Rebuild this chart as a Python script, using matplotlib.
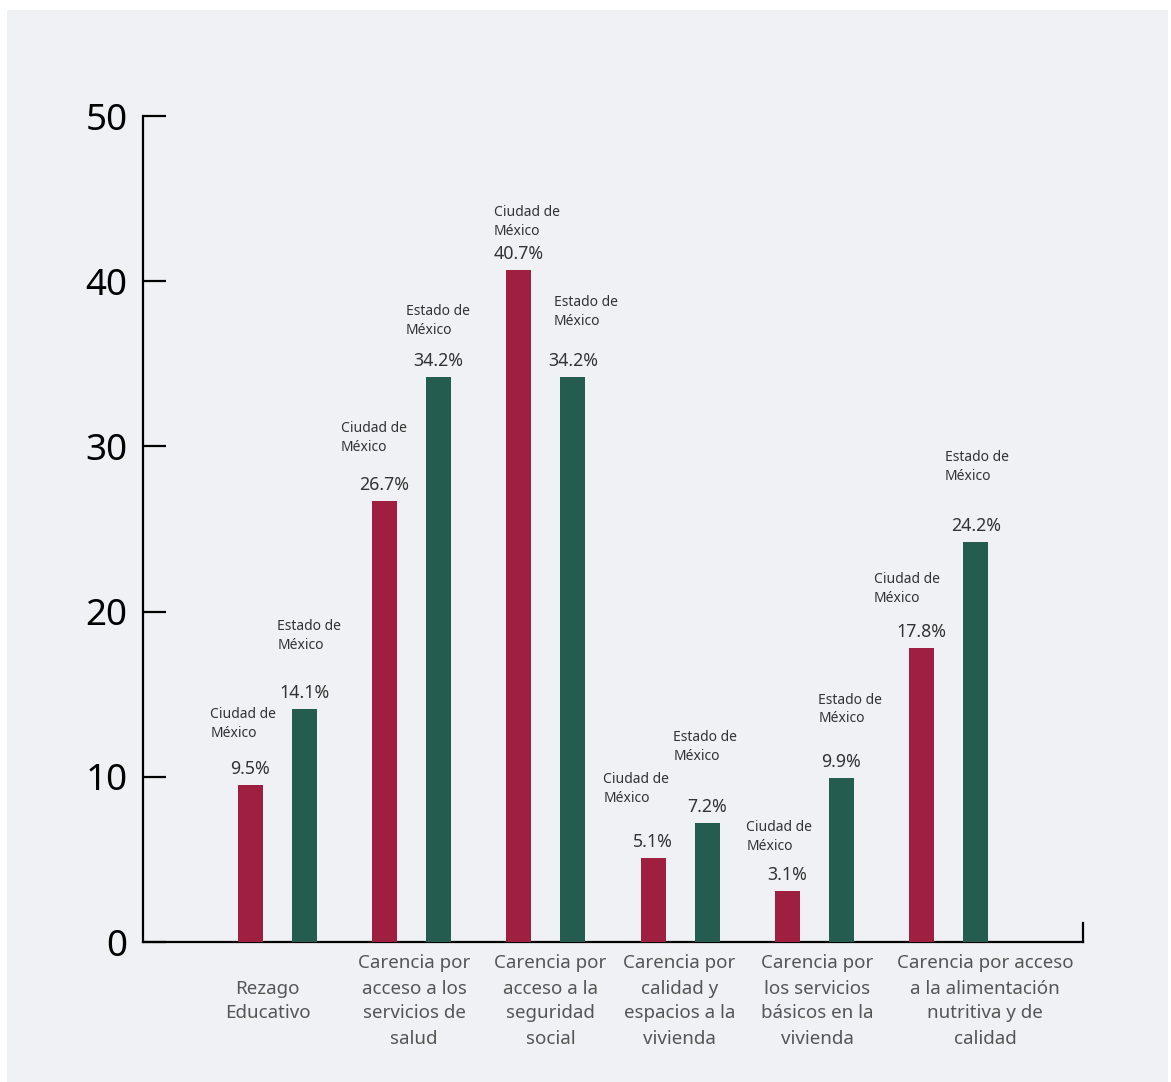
import matplotlib
matplotlib.use('Agg')
import matplotlib.pyplot as plt
from matplotlib.patches import Rectangle
import numpy as np

# --- data ---
categories = ['Rezago\nEducativo',
              'Carencia por\nacceso a los\nservicios de\nsalud',
              'Carencia por\nacceso a la\nseguridad\nsocial',
              'Carencia por\ncalidad y\nespacios a la\nvivienda',
              'Carencia por\nlos servicios\nbásicos en la\nvivienda',
              'Carencia por acceso\na la alimentación\nnutritiva y de\ncalidad']
cdmx = [9.5, 26.7, 40.7, 5.1, 3.1, 17.8]
edomex = [14.1, 34.2, 34.2, 7.2, 9.9, 24.2]
series_names = ['Ciudad de\nMéxico', 'Estado de\nMéxico']
yticks = [0, 10, 20, 30, 40, 50]

# label placement tweaks (pixels)
cat_dx = [-9.5, 2.5, 4.5, -0.5, 3, 36.5]
note_dx = [[-7, -11, 8, -17, -8, -15], [5, -1, 13, -2, 9, 1]]
note_gap = [[33, 35, 20, 41, 26, 31], [45, 28, 37, 48, 41, 47]]

RED = '#9e1f40'
GREEN = '#245c4f'
BG = '#f0f1f5'
PX = 0.72  # px -> pt at dpi 100

plt.rcParams['font.family'] = ['Noto Sans', 'DejaVu Sans']

fig = plt.figure(figsize=(11.71, 10.82), dpi=100)
fig.patch.set_facecolor('white')
fig.patches.append(Rectangle((7 / 1171, 0), 1161 / 1171, 1 - 10 / 1082,
                             transform=fig.transFigure, facecolor=BG,
                             edgecolor='none', zorder=-10))

ax = fig.add_axes([143 / 1171, 1 - 942 / 1082, 940 / 1171, 826 / 1082])
ax.set_facecolor('none')

x = np.arange(len(categories))
w = 0.186
off = 0.201
ax.bar(x - off, cdmx, width=w, color=RED, zorder=3)
ax.bar(x + off, edomex, width=w, color=GREEN, zorder=3)

ax.set_xlim(-1, 6)
ax.set_ylim(0, 50)

for s in ['top', 'right']:
    ax.spines[s].set_visible(False)
for s in ['left', 'bottom']:
    ax.spines[s].set_linewidth(1.6)
    ax.spines[s].set_color('black')
ax.axvline(6, ymin=0, ymax=19 / 826, color='black', lw=1.6, clip_on=False)

ax.set_yticks(yticks)
ax.set_yticklabels([str(t) for t in yticks])
ax.tick_params(axis='y', direction='in', length=16.5, width=1.6,
               pad=11, labelsize=26.5, colors='black')
ax.set_xticks([])

# category labels
for i, lab in enumerate(categories):
    ax.annotate(lab, xy=(i, 0), xycoords=('data', 'axes fraction'),
                xytext=(cat_dx[i] * PX, -59 * PX), textcoords='offset points',
                ha='center', va='center', fontsize=13.5, color='#555555',
                linespacing=1.5)

# value and series labels
for k, vals in enumerate([cdmx, edomex]):
    sign = -1 if k == 0 else 1
    for i, v in enumerate(vals):
        xi = i + sign * off
        ax.annotate(f'{v}%', xy=(xi, v), xytext=(0, 16 * PX),
                    textcoords='offset points', ha='center', va='center',
                    fontsize=12.8, color='#333333')
        ax.annotate(series_names[k], xy=(xi, v),
                    xytext=(note_dx[k][i] * PX, (18 + note_gap[k][i] + 10) * PX),
                    textcoords='offset points', ha='center', va='center',
                    multialignment='left', fontsize=10, color='#333333',
                    linespacing=1.35)

fig.savefig('out.png', dpi=100, facecolor=fig.get_facecolor())
